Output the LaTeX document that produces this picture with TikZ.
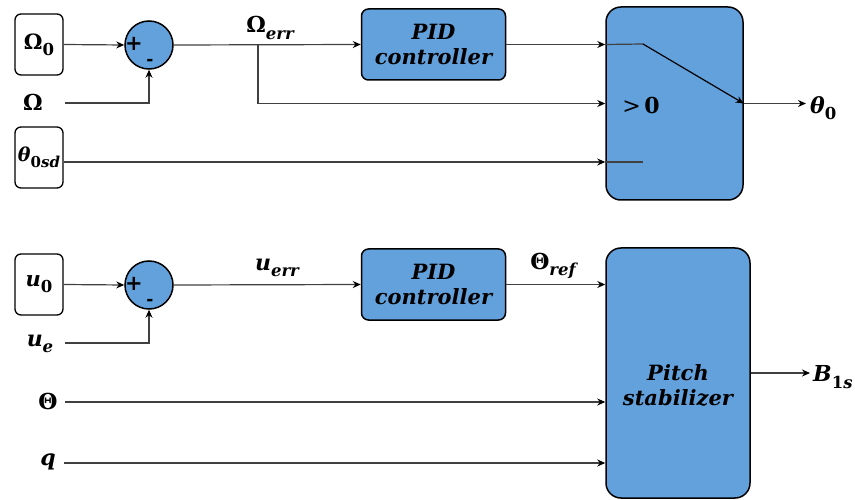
\documentclass[tikz,border=0pt]{standalone}
\usepackage{fontspec}
\newfontfamily\blockfont{DejaVu Serif}
\newfontfamily\signfont{DejaVu Sans}
\usetikzlibrary{arrows.meta}
\definecolor{blockblue}{HTML}{63A1DD}
\definecolor{wiregray}{HTML}{404040}
% bold upright / bold italic symbols and a lowered subscript
\newcommand\symup[1]{{\blockfont\bfseries #1}}
\newcommand\symit[1]{{\blockfont\bfseries\itshape #1}}
\newcommand\symsub[1]{\raisebox{-0.3em}{\fontsize{16.5}{16.5}\selectfont #1}}
\begin{document}
\begin{tikzpicture}[x=1pt,y=-1pt,
  wire/.style={draw=wiregray, line width=1.2pt},
  arr/.style={wire, -{Stealth[length=8pt,width=7pt,black]}},
  inbox/.style={draw, line width=1.3pt, rounded corners=6pt, fill=white,
    minimum width=48pt, minimum height=61pt, inner sep=0pt,
    font=\fontsize{21}{24}\selectfont},
  blk/.style={draw, line width=1.5pt, fill=blockblue, rounded corners=7pt,
    align=center, font=\blockfont\bfseries\itshape\fontsize{21}{25}\selectfont},
  sumnode/.style={circle, draw, line width=1.5pt, fill=blockblue,
    minimum size=48pt, inner sep=0pt},
  lab/.style={inner sep=0pt, font=\fontsize{22}{26}\selectfont},
  sgn/.style={inner sep=0pt, font=\signfont\bfseries\fontsize{21}{21}\selectfont},
  sgnm/.style={inner sep=0pt, font=\signfont\bfseries\fontsize{17}{17}\selectfont}
]
\useasboundingbox (0,0) rectangle (855,500);

% ---------- speed loop with switching logic ----------
\node[inbox] (om0) at (39,44.5) {\symup{Ω}\symsub{\symup{0}}};
\node[sumnode] (s1) at (149,45) {};
\node[sgn] (p1) at (134,44) {+};
\node[sgnm] (m1) at (150,62) {-};
\node[lab] (omL) at (33,102) {\symup{Ω}};
\coordinate (omIn) at (65,103);
\node[inbox, font=\fontsize{19}{22}\selectfont] (th0sd) at (39,157.5)
  {\symit{θ}\raisebox{-0.3em}{\fontsize{15}{15}\selectfont\symup{0}\symit{sd}}};
\path (th0sd.east) ++(0,4.5) coordinate (thIn);

\node[blk, minimum width=144pt, minimum height=71pt] (pid1) at (433.5,44.5) {PID\\controller};
\node[lab] (omErr) at (270,28) {\symup{Ω}\symsub{\symit{err}}};
\coordinate (br) at (258,45);

\node[blk, rounded corners=15pt, minimum width=137pt, minimum height=193pt] (sw) at (674.5,103.5) {};
\node[lab] (gt) at (641,105) {{\blockfont >}\,\symup{0}};
\coordinate (swa) at (643,44);
\coordinate (swb) at (643,162);
\node[lab, anchor=west] (th0) at (810,108) {\symit{θ}\symsub{\symup{0}}};

\draw[arr] (om0.east) -- (s1.west);
\draw[arr] (omIn) -| (s1.south);
\draw[arr] (s1.east) -- (pid1.west);
\draw[arr] (br) |- (sw.west);
\draw[arr] (pid1.east) -- (pid1.east -| sw.west);
\draw[wire] (pid1.east -| sw.west) -- (swa);
\draw[arr, draw=black] (swa) -- (sw.east);
\draw[arr] (thIn) -- (thIn -| sw.west);
\draw[wire] (thIn -| sw.west) -- (swb);
\draw[arr] (sw.east) -- ([xshift=-4pt]th0.west |- sw.east);

% ---------- pitch loop ----------
\node[inbox] (u0) at (39,284.5) {\symit{u}\symsub{\symup{0}}};
\node[sumnode] (s2) at (149,285) {};
\node[sgn] (p2) at (134,284) {+};
\node[sgnm] (m2) at (150,302) {-};
\node[lab] (ue) at (40,344) {\symit{u}\symsub{\symit{e}}};
\coordinate (ueIn) at (65,343);
\node[lab] (Th) at (48,401) {\symup{Θ}};
\coordinate (ThIn) at (65,402);
\node[lab] (q) at (48,462) {\symit{q}};
\coordinate (qIn) at (64,463);

\node[blk, minimum width=144pt, minimum height=71pt] (pid2) at (433.5,284.5) {PID\\controller};
\node[lab] (uErr) at (277,268) {\symit{u}\symsub{\symit{err}}};
\node[lab] (thRef) at (553,266) {\symup{Θ}\symsub{\symit{ref}}};

\node[blk, rounded corners=15pt, minimum width=144pt, minimum height=250pt] (ps) at (678,373) {};
\node[blk, draw=none, fill=none, inner sep=0pt] (psL) at (678,385) {Pitch\\stabilizer};
\node[lab, anchor=west] (b1s) at (813,377) {\symit{B}\symsub{\symup{1}\symit{s}}};

\draw[arr] (u0.east) -- (s2.west);
\draw[arr] (ueIn) -| (s2.south);
\draw[arr] (s2.east) -- (pid2.west);
\draw[arr] (pid2.east) -- (pid2.east -| ps.west);
\draw[arr] (ThIn) -- (ThIn -| ps.west);
\draw[arr] (qIn) -- (qIn -| ps.west);
\draw[arr] (ps.east) -- ([xshift=-3pt]b1s.west |- ps.east);
\end{tikzpicture}
\end{document}
